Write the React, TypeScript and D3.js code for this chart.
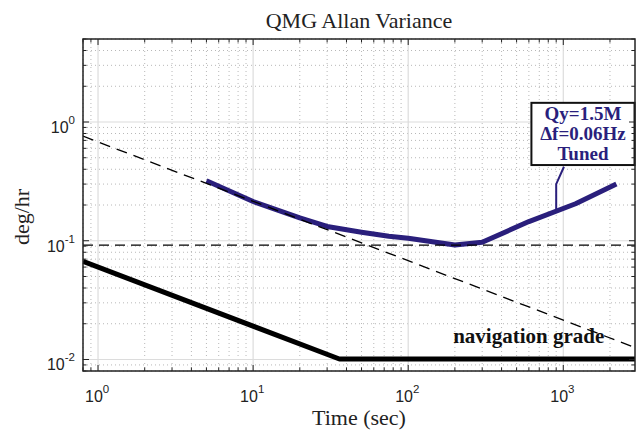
import React from "react";
import * as d3 from "d3";

const xDomain = [0.8, 2900];
const yDomain = [0.008, 5];
const xMajor = [1, 10, 100, 1000];
const xMajorExp = ["0", "1", "2", "3"];
const yMajor = [0.01, 0.1, 1];
const yMajorExp = ["-2", "-1", "0"];

const blueX = [5, 10, 20, 30, 50, 75, 100, 200, 300, 600, 1200, 2200];
const blueY = [0.32, 0.214, 0.156, 0.132, 0.118, 0.109, 0.105, 0.092, 0.097, 0.145, 0.205, 0.3];

const navX = [0.8, 36, 2900];
const navY = [0.067, 0.0101, 0.0101];

const slopeX = [0.8, 2900];
const slopeY = [0.76, 0.0126];

const flatX = [0.8, 2900];
const flatY = [0.092, 0.092];

const noteLines = ["Qy=1.5M", "Δf=0.06Hz", "Tuned"];
const noteBoxX = [623, 2880];
const noteBoxY = [1.45, 0.434];
const leaderX = [1010, 900, 900];
const leaderY = [0.42, 0.3, 0.175];

const navLabel = "navigation grade";
const navLabelPos = [195, 0.0137];

const W = 636, H = 431;
const M = { left: 83, right: 635, top: 39, bottom: 371 };
const NAVY = "#2a1f7c";

export default function App() {
  React.useEffect(() => {
    document.body.style.margin = "0";
  }, []);
  const x = d3.scaleLog().domain(xDomain).range([M.left, M.right]);
  const y = d3.scaleLog().domain(yDomain).range([M.bottom, M.top]);

  const minorX: number[] = [];
  for (let e = -1; e <= 3; e++) for (let k = 2; k <= 9; k++) {
    const v = k * Math.pow(10, e);
    if (v >= xDomain[0] - 1e-9 && v <= xDomain[1]) minorX.push(v);
  }
  const minorY: number[] = [];
  for (let e = -3; e <= 0; e++) for (let k = 2; k <= 9; k++) {
    const v = k * Math.pow(10, e);
    if (v >= yDomain[0] - 1e-12 && v <= yDomain[1] + 1e-9) minorY.push(v);
  }

  const line = d3.line<[number, number]>().x(d => x(d[0])).y(d => y(d[1]));
  const zip = (a: number[], b: number[]) => a.map((v, i) => [v, b[i]] as [number, number]);

  const serif = "'Liberation Serif', 'Times New Roman', serif";
  const sans = "'Liberation Sans', Arial, sans-serif";

  const bx0 = x(noteBoxX[0]), bx1 = x(noteBoxX[1]);
  const by0 = y(noteBoxY[0]), by1 = y(noteBoxY[1]);
  const bcx = (bx0 + bx1) / 2;

  return (
    <svg width={W} height={H} style={{ display: "block" }}>
      <rect x={0} y={0} width={W} height={H} fill="#fff" />
      <defs>
        <clipPath id="plot">
          <rect x={M.left} y={M.top} width={M.right - M.left} height={M.bottom - M.top} />
        </clipPath>
      </defs>
      {/* grid */}
      <g>
        {minorX.map((v, i) => (
          <line key={"gx" + i} x1={x(v)} x2={x(v)} y1={M.top} y2={M.bottom} stroke="#b8b8b8" strokeWidth={1} strokeDasharray="1 3" />
        ))}
        {minorY.map((v, i) => (
          <line key={"gy" + i} y1={y(v)} y2={y(v)} x1={M.left} x2={M.right} stroke="#b8b8b8" strokeWidth={1} strokeDasharray="1 3" />
        ))}
        {xMajor.map((v, i) => (
          <line key={"Gx" + i} x1={x(v)} x2={x(v)} y1={M.top} y2={M.bottom} stroke="#dcdcdc" strokeWidth={1.2} />
        ))}
        {yMajor.map((v, i) => (
          <line key={"Gy" + i} y1={y(v)} y2={y(v)} x1={M.left} x2={M.right} stroke="#dcdcdc" strokeWidth={1.2} />
        ))}
      </g>
      <g clipPath="url(#plot)">
        <path d={line(zip(navX, navY)) || ""} fill="none" stroke="#000" strokeWidth={5} strokeLinejoin="round" />
        <path d={line(zip(blueX, blueY)) || ""} fill="none" stroke={NAVY} strokeWidth={5} strokeLinejoin="round" />
        <path d={line(zip(flatX, flatY)) || ""} fill="none" stroke="#000" strokeWidth={1.3} strokeDasharray="10 6" />
        <path d={line(zip(slopeX, slopeY)) || ""} fill="none" stroke="#000" strokeWidth={1.3} strokeDasharray="11 7" />
      </g>
      {/* annotation */}
      <path d={line(zip(leaderX, leaderY)) || ""} fill="none" stroke={NAVY} strokeWidth={2} />
      <rect x={bx0} y={by0} width={bx1 - bx0} height={by1 - by0} fill="#fff" stroke="#111" strokeWidth={2} />
      {noteLines.map((t, i) => (
        <text key={t} x={bcx} y={by0 + 17 + i * 20} textAnchor="middle" fontFamily={serif} fontWeight="bold" fontSize={19} fill={NAVY}>{t}</text>
      ))}
      <text x={x(navLabelPos[0])} y={y(navLabelPos[1])} fontFamily={serif} fontWeight="bold" fontSize={21} fill="#111">{navLabel}</text>
      {/* ticks */}
      <g stroke="#222" strokeWidth={1}>
        {xMajor.map((v, i) => (
          <g key={"tx" + i}>
            <line x1={x(v)} x2={x(v)} y1={M.bottom} y2={M.bottom - 6} />
            <line x1={x(v)} x2={x(v)} y1={M.top} y2={M.top + 6} />
          </g>
        ))}
        {minorX.map((v, i) => (
          <g key={"mx" + i}>
            <line x1={x(v)} x2={x(v)} y1={M.bottom} y2={M.bottom - 3.5} />
            <line x1={x(v)} x2={x(v)} y1={M.top} y2={M.top + 3.5} />
          </g>
        ))}
        {yMajor.map((v, i) => (
          <g key={"ty" + i}>
            <line y1={y(v)} y2={y(v)} x1={M.left} x2={M.left + 6} />
            <line y1={y(v)} y2={y(v)} x1={M.right} x2={M.right - 6} />
          </g>
        ))}
        {minorY.map((v, i) => (
          <g key={"my" + i}>
            <line y1={y(v)} y2={y(v)} x1={M.left} x2={M.left + 3.5} />
            <line y1={y(v)} y2={y(v)} x1={M.right} x2={M.right - 3.5} />
          </g>
        ))}
      </g>
      <rect x={M.left} y={M.top} width={M.right - M.left} height={M.bottom - M.top} fill="none" stroke="#222" strokeWidth={1.5} />
      {/* tick labels */}
      {xMajor.map((v, i) => (
        <text key={"lx" + i} x={x(v) - 13} y={M.bottom + 31} fontFamily={sans} fontSize={16} fill="#222">
          10<tspan dy={-9} fontSize={11.5}>{xMajorExp[i]}</tspan>
        </text>
      ))}
      {yMajor.map((v, i) => (
        <text key={"ly" + i} x={M.left - 8} y={y(v) + 11} textAnchor="end" fontFamily={sans} fontSize={16} fill="#222">
          10<tspan dy={-9} fontSize={11.5}>{yMajorExp[i]}</tspan>
        </text>
      ))}
      <text x={(M.left + M.right) / 2} y={28} textAnchor="middle" fontFamily={serif} fontSize={22} fill="#222">QMG Allan Variance</text>
      <text x={(M.left + M.right) / 2} y={425} textAnchor="middle" fontFamily={serif} fontSize={22} fill="#222">Time (sec)</text>
      <text transform={`translate(29, 217) rotate(-90)`} textAnchor="middle" fontFamily={serif} fontSize={22} fill="#222">deg/hr</text>
    </svg>
  );
}
